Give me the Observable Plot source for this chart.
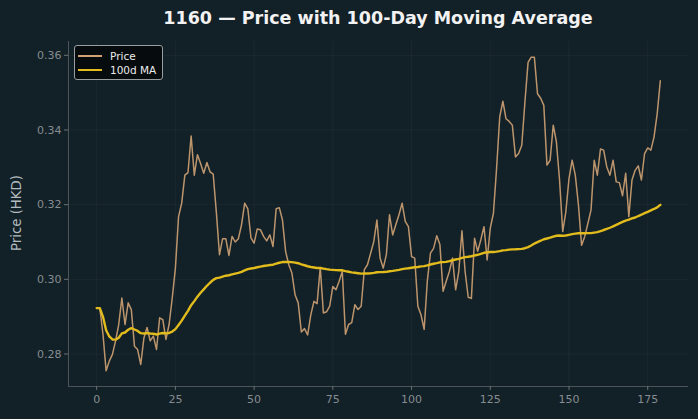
<!DOCTYPE html>
<html><head><meta charset="utf-8">
<script src="https://cdn.jsdelivr.net/npm/d3@7"></script>
<script src="https://cdn.jsdelivr.net/npm/@observablehq/plot@0.6"></script>
<style>
html,body{margin:0;padding:0;background:#122027;}
#wrap{position:relative;width:698px;height:419px;font-family:"DejaVu Sans",sans-serif;overflow:hidden;}
.legend{position:absolute;left:74px;top:45px;width:89px;height:35px;background:#060b0e;border:1px solid #9a9ea0;border-radius:3px;font-size:10.5px;color:#ececec;box-sizing:border-box;}
.row{position:absolute;left:0;height:14px;line-height:14px;}
.sw{position:absolute;left:3px;width:24px;}
.lab{position:absolute;left:35px;white-space:nowrap;}
.title{position:absolute;left:0;top:7px;width:756px;text-align:center;font-weight:bold;font-size:17.5px;line-height:22px;color:#f2f2f2;white-space:nowrap;}
.ylab{position:absolute;left:-83px;top:203px;width:200px;height:20px;line-height:20px;text-align:center;font-size:13.3px;color:#b3bbbf;transform:rotate(-90deg);white-space:nowrap;}
</style></head>
<body><div id="wrap"></div>
<script>
const title = "1160 — Price with 100-Day Moving Average";
const yLabel = "Price (HKD)";
const seriesNames = ["Price", "100d MA"];
const maWindow = 100;
const xTicks = [0, 25, 50, 75, 100, 125, 150, 175];
const yTicks = [0.28, 0.30, 0.32, 0.34, 0.36];
const price = [
0.2923,0.2923,0.2853,0.2755,0.2781,0.2799,0.2835,0.2879,0.2950,0.2879,
0.2937,0.2919,0.2821,0.2812,0.2772,0.2843,0.2871,0.2835,0.2848,0.2812,
0.2897,0.2892,0.2839,0.2879,0.2950,0.3030,0.3168,0.3204,0.3279,0.3286,
0.3384,0.3279,0.3334,0.3310,0.3284,0.3313,0.3288,0.3282,0.3180,0.3066,
0.3109,0.3109,0.3064,0.3115,0.3100,0.3109,0.3146,0.3204,0.3189,0.3111,
0.3097,0.3135,0.3133,0.3115,0.3103,0.3119,0.3088,0.3189,0.3192,0.3159,
0.3075,0.3039,0.3017,0.2959,0.2937,0.2859,0.2868,0.2851,0.2905,0.2941,
0.2935,0.3032,0.2910,0.2913,0.2928,0.2981,0.2972,0.2995,0.3021,0.2853,
0.2879,0.2884,0.2932,0.2919,0.2928,0.3026,0.3039,0.3070,0.3101,0.3159,
0.3057,0.3030,0.3066,0.3173,0.3119,0.3146,0.3173,0.3204,0.3155,0.3141,
0.3061,0.3057,0.2928,0.2905,0.2866,0.2995,0.3070,0.3083,0.3117,0.3093,
0.2968,0.2995,0.3021,0.3057,0.2972,0.3021,0.3130,0.3021,0.2952,0.2949,
0.3110,0.3075,0.3106,0.3141,0.3052,0.3137,0.3177,0.3297,0.3435,0.3477,
0.3430,0.3423,0.3413,0.3328,0.3337,0.3359,0.3475,0.3581,0.3595,0.3595,
0.3497,0.3485,0.3466,0.3306,0.3319,0.3413,0.3368,0.3266,0.3128,0.3181,
0.3270,0.3319,0.3279,0.3199,0.3091,0.3115,0.3150,0.3186,0.3319,0.3279,
0.3349,0.3346,0.3301,0.3279,0.3319,0.3261,0.3259,0.3224,0.3284,0.3168,
0.3266,0.3292,0.3304,0.3266,0.3337,0.3352,0.3346,0.3381,0.3443,0.3532
];
const day = price.map((_, i) => i);
const rows = day.map((d, i) => ({day: d, price: price[i]}));

const priceColor = "#cfa274";
const maColor = "#e2bb1c";
const n = price.length - 1;
const xPad = n * 0.05;
const yMin = d3.min(price), yMax = d3.max(price), yPad = (yMax - yMin) * 0.05;
const xDomain = [-xPad, n + xPad];
const yDomain = [yMin - yPad, yMax + yPad];

const chart = Plot.plot({
  width: 698, height: 419,
  marginLeft: 68, marginRight: 10, marginTop: 41, marginBottom: 33,
  style: {background: "#122027", fontFamily: "DejaVu Sans, sans-serif", fontSize: "11px"},
  x: {domain: xDomain},
  y: {domain: yDomain},
  marks: [
    Plot.gridX(xTicks, {stroke: "#ffffff", strokeOpacity: 0.04}),
    Plot.gridY(yTicks, {stroke: "#ffffff", strokeOpacity: 0.04}),
    Plot.ruleX([xDomain[0]], {stroke: "#4d5458", strokeWidth: 1}),
    Plot.ruleY([yDomain[0]], {stroke: "#4d5458", strokeWidth: 1}),
    Plot.axisX(xTicks, {tickSize: 4, tickPadding: 5, stroke: "#6b7175", fill: "#868d91", fontSize: 11, label: null}),
    Plot.axisY(yTicks, {tickSize: 4, tickPadding: 3, stroke: "#6b7175", fill: "#868d91", fontSize: 11, label: null, tickFormat: d3.format(".2f")}),
    Plot.line(rows, {x: "day", y: "price", stroke: priceColor, strokeWidth: 1.5, strokeOpacity: 0.9}),
    Plot.line(rows, Plot.windowY({k: maWindow, anchor: "end", reduce: "mean", strict: false}, {x: "day", y: "price", stroke: maColor, strokeWidth: 2.4}))
  ]
});
const wrap = document.getElementById("wrap");
wrap.appendChild(chart);

const t = document.createElement("div");
t.className = "title"; t.textContent = title; wrap.appendChild(t);
const yl = document.createElement("div");
yl.className = "ylab"; yl.textContent = yLabel; wrap.appendChild(yl);

const leg = document.createElement("div");
leg.className = "legend";
const colors = [priceColor, maColor];
const widths = [2, 2.6];
seriesNames.forEach((name, i) => {
  const r = document.createElement("div");
  r.className = "row";
  r.style.top = (3 + i * 14) + "px";
  r.style.width = "100%";
  const sw = document.createElement("div");
  sw.className = "sw";
  sw.style.top = (7 - widths[i] / 2) + "px";
  sw.style.height = widths[i] + "px";
  sw.style.background = colors[i];
  const lb = document.createElement("div");
  lb.className = "lab";
  lb.textContent = name;
  r.appendChild(sw); r.appendChild(lb);
  leg.appendChild(r);
});
wrap.appendChild(leg);
</script>
</body></html>
